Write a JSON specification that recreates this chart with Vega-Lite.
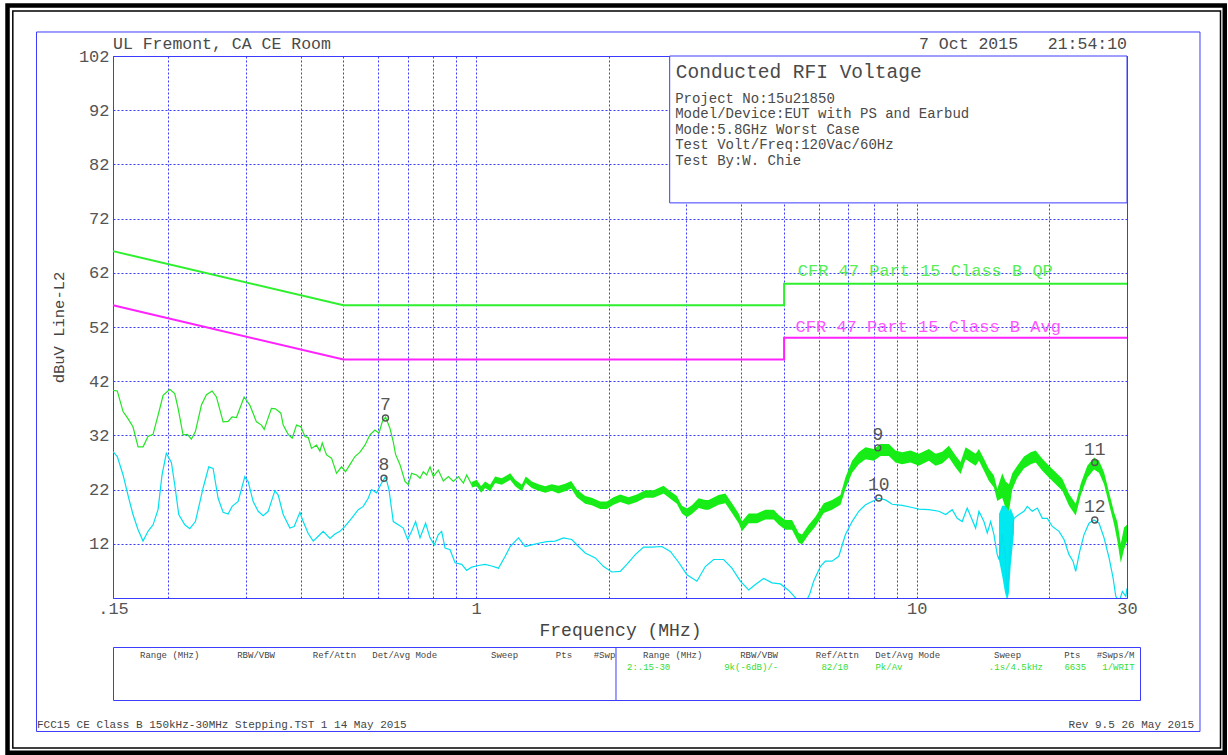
{
  "$schema": "https://vega.github.io/schema/vega-lite/v6.json",
  "background": "white",
  "autosize": {"type": "pad"},
  "padding": {"left": 4, "top": 2, "right": 0, "bottom": 0},
  "datasets": {
    "limits": [
      {"lim": "QP", "i": 0, "f": 0.15, "v": 66}, {"lim": "QP", "i": 1, "f": 0.5, "v": 56}, {"lim": "QP", "i": 2, "f": 5, "v": 56}, {"lim": "QP", "i": 3, "f": 5, "v": 60}, {"lim": "QP", "i": 4, "f": 30, "v": 60},
      {"lim": "Avg", "i": 0, "f": 0.15, "v": 56}, {"lim": "Avg", "i": 1, "f": 0.5, "v": 46}, {"lim": "Avg", "i": 2, "f": 5, "v": 46}, {"lim": "Avg", "i": 3, "f": 5, "v": 50}, {"lim": "Avg", "i": 4, "f": 30, "v": 50}
    ],
    "pk": [
      {"f": 0.150, "v": 40.3}, {"f": 0.1534, "v": 40.2}, {"f": 0.1581, "v": 36.4}, {"f": 0.1622, "v": 35.1}, {"f": 0.1665, "v": 33.6}, {"f": 0.1710, "v": 29.9}, {"f": 0.1755, "v": 29.9}, {"f": 0.1801, "v": 31.8}, {"f": 0.1849, "v": 32.2}, {"f": 0.1898, "v": 35.7}, {"f": 0.1949, "v": 39.4}, {"f": 0.2018, "v": 40.5}, {"f": 0.2071, "v": 39.7}, {"f": 0.2108, "v": 37.0}, {"f": 0.2163, "v": 32.1}, {"f": 0.2213, "v": 32.2}, {"f": 0.2259, "v": 31.3}, {"f": 0.2307, "v": 32.7}, {"f": 0.2381, "v": 37.6}, {"f": 0.2444, "v": 39.5}, {"f": 0.2517, "v": 40.2}, {"f": 0.2575, "v": 39.1}, {"f": 0.2667, "v": 34.5}, {"f": 0.2737, "v": 34.6}, {"f": 0.2795, "v": 35.4}, {"f": 0.2859, "v": 35.3}, {"f": 0.2976, "v": 39.1}, {"f": 0.3066, "v": 37.6}, {"f": 0.3174, "v": 34.5}, {"f": 0.3258, "v": 33.9}, {"f": 0.3305, "v": 33.1}, {"f": 0.3433, "v": 37.0}, {"f": 0.3506, "v": 36.9}, {"f": 0.3606, "v": 36.1}, {"f": 0.3650, "v": 33.9}, {"f": 0.3747, "v": 32.2}, {"f": 0.3826, "v": 31.5}, {"f": 0.3913, "v": 33.9}, {"f": 0.4004, "v": 33.6}, {"f": 0.4089, "v": 31.8}, {"f": 0.4160, "v": 31.6}, {"f": 0.4232, "v": 29.6}, {"f": 0.4344, "v": 30.2}, {"f": 0.4422, "v": 29.1}, {"f": 0.4476, "v": 30.6}, {"f": 0.4578, "v": 28.4}, {"f": 0.4699, "v": 27.8}, {"f": 0.4823, "v": 25.0}, {"f": 0.4951, "v": 26.2}, {"f": 0.5056, "v": 25.3}, {"f": 0.5173, "v": 26.6}, {"f": 0.5310, "v": 28.1}, {"f": 0.5451, "v": 28.9}, {"f": 0.5595, "v": 30.2}, {"f": 0.5743, "v": 32.1}, {"f": 0.5895, "v": 33.0}, {"f": 0.6020, "v": 32.4}, {"f": 0.6125, "v": 34.5}, {"f": 0.6232, "v": 35.4}, {"f": 0.6377, "v": 33.3}, {"f": 0.6488, "v": 30.8}, {"f": 0.6566, "v": 28.5}, {"f": 0.6719, "v": 26.6}, {"f": 0.6897, "v": 23.5}, {"f": 0.7017, "v": 22.9}, {"f": 0.7140, "v": 25.0}, {"f": 0.7329, "v": 24.7}, {"f": 0.7461, "v": 24.1}, {"f": 0.7590, "v": 25.3}, {"f": 0.7723, "v": 24.7}, {"f": 0.7861, "v": 26.2}, {"f": 0.7998, "v": 24.4}, {"f": 0.8210, "v": 25.6}, {"f": 0.8428, "v": 23.6}, {"f": 0.8652, "v": 24.4}, {"f": 0.8882, "v": 23.5}, {"f": 0.9117, "v": 24.4}, {"f": 0.9359, "v": 23.2}, {"f": 0.9522, "v": 24.7}, {"f": 0.9775, "v": 22.9},
      {"f": 1.0034, "v": 23.2}, {"f": 1.0268, "v": 22.0}, {"f": 1.0485, "v": 22.9}, {"f": 1.0763, "v": 22.3}, {"f": 1.1049, "v": 23.8}, {"f": 1.1437, "v": 23.5}, {"f": 1.1951, "v": 24.4}, {"f": 1.2268, "v": 23.2}, {"f": 1.2699, "v": 22.3}, {"f": 1.2967, "v": 23.8}, {"f": 1.3381, "v": 22.9}, {"f": 1.3858, "v": 22.4}, {"f": 1.4352, "v": 22.0}, {"f": 1.4852, "v": 22.4}, {"f": 1.5381, "v": 22.0}, {"f": 1.5929, "v": 22.4}, {"f": 1.6437, "v": 22.9}, {"f": 1.6925, "v": 21.3}, {"f": 1.7685, "v": 20.1}, {"f": 1.8306, "v": 19.8}, {"f": 1.9129, "v": 19.1}, {"f": 1.9801, "v": 19.1}, {"f": 2.0508, "v": 19.9}, {"f": 2.1239, "v": 20.4}, {"f": 2.2182, "v": 19.9}, {"f": 2.3167, "v": 20.4}, {"f": 2.4209, "v": 21.2}, {"f": 2.5284, "v": 21.2}, {"f": 2.6640, "v": 22.0}, {"f": 2.7590, "v": 21.0}, {"f": 2.8558, "v": 20.1}, {"f": 2.9316, "v": 18.3}, {"f": 3.0092, "v": 17.7}, {"f": 3.0890, "v": 18.3}, {"f": 3.1991, "v": 19.5}, {"f": 3.3131, "v": 19.2}, {"f": 3.3708, "v": 19.2}, {"f": 3.5514, "v": 20.1}, {"f": 3.6783, "v": 20.4}, {"f": 3.8075, "v": 18.6}, {"f": 3.9432, "v": 16.7}, {"f": 4.0119, "v": 15.2}, {"f": 4.1550, "v": 16.7}, {"f": 4.3394, "v": 16.7}, {"f": 4.5345, "v": 17.4}, {"f": 4.7360, "v": 17.4}, {"f": 4.8615, "v": 16.4}, {"f": 5.0348, "v": 15.5}, {"f": 5.2115, "v": 15.5}, {"f": 5.3972, "v": 13.1}, {"f": 5.4912, "v": 12.8}, {"f": 5.6870, "v": 14.6}, {"f": 5.8896, "v": 16.1}, {"f": 6.1514, "v": 18.6}, {"f": 6.4244, "v": 19.2}, {"f": 6.7131, "v": 20.1}, {"f": 6.8910, "v": 23.2}, {"f": 7.1330, "v": 26.2}, {"f": 7.3872, "v": 27.8}, {"f": 7.6506, "v": 28.7}, {"f": 7.9904, "v": 28.4}, {"f": 8.2752, "v": 29.3}, {"f": 8.6426, "v": 29.3}, {"f": 8.9508, "v": 28.1}, {"f": 9.2652, "v": 27.8}, {"f": 9.6812, "v": 28.1}, {"f": 10.111, "v": 27.5}, {"f": 10.654, "v": 28.4}, {"f": 11.034, "v": 27.5}, {"f": 11.422, "v": 27.9}, {"f": 11.829, "v": 29.0}, {"f": 12.250, "v": 27.2}, {"f": 12.575, "v": 26.0}, {"f": 12.909, "v": 28.7}, {"f": 13.251, "v": 28.1}, {"f": 13.602, "v": 27.5}, {"f": 13.839, "v": 28.4}, {"f": 14.205, "v": 26.6}, {"f": 14.582, "v": 24.7}, {"f": 14.969, "v": 23.5}, {"f": 15.229, "v": 21.0}, {"f": 15.633, "v": 22.9}, {"f": 15.914, "v": 21.0}, {"f": 16.191, "v": 19.8}, {"f": 16.473, "v": 23.5}, {"f": 16.910, "v": 25.3}, {"f": 17.513, "v": 27.0}, {"f": 18.138, "v": 27.8}, {"f": 18.618, "v": 28.1}, {"f": 19.272, "v": 26.6}, {"f": 19.959, "v": 25.3}, {"f": 20.670, "v": 24.1}, {"f": 21.396, "v": 22.9}, {"f": 22.159, "v": 20.1}, {"f": 22.947, "v": 18.3}, {"f": 23.555, "v": 22.0}, {"f": 24.382, "v": 25.3}, {"f": 25.252, "v": 26.8}, {"f": 25.921, "v": 26.2}, {"f": 26.610, "v": 24.1}, {"f": 27.316, "v": 20.4}, {"f": 28.041, "v": 16.7}, {"f": 28.529, "v": 14.3}, {"f": 29.040, "v": 9.7}, {"f": 29.546, "v": 13.7}, {"f": 30, "v": 14.3}
    ],
    "pkband": [
      {"f": 0.9775, "lo": 22.4, "hi": 23.4}, {"f": 1.0034, "lo": 22.6, "hi": 23.8}, {"f": 1.0268, "lo": 21.4, "hi": 22.6}, {"f": 1.0485, "lo": 22.3, "hi": 23.5}, {"f": 1.0763, "lo": 21.7, "hi": 22.9}, {"f": 1.1049, "lo": 23.2, "hi": 24.4}, {"f": 1.1437, "lo": 22.9, "hi": 24.1}, {"f": 1.1951, "lo": 23.8, "hi": 25.0}, {"f": 1.2268, "lo": 22.6, "hi": 23.8}, {"f": 1.2699, "lo": 21.7, "hi": 22.9}, {"f": 1.2967, "lo": 23.2, "hi": 24.4}, {"f": 1.3381, "lo": 22.3, "hi": 23.5}, {"f": 1.3858, "lo": 21.8, "hi": 23.0}, {"f": 1.4352, "lo": 21.4, "hi": 22.6}, {"f": 1.4852, "lo": 21.8, "hi": 23.0}, {"f": 1.5381, "lo": 21.3, "hi": 22.7}, {"f": 1.5929, "lo": 21.7, "hi": 23.1}, {"f": 1.6437, "lo": 22.2, "hi": 23.6}, {"f": 1.6925, "lo": 20.6, "hi": 22.0}, {"f": 1.7685, "lo": 19.4, "hi": 20.8}, {"f": 1.8306, "lo": 19.1, "hi": 20.5}, {"f": 1.9129, "lo": 18.4, "hi": 19.8}, {"f": 1.9801, "lo": 18.4, "hi": 19.8}, {"f": 2.0508, "lo": 19.2, "hi": 20.6}, {"f": 2.1239, "lo": 19.7, "hi": 21.1}, {"f": 2.2182, "lo": 19.2, "hi": 20.6}, {"f": 2.3167, "lo": 19.7, "hi": 21.1}, {"f": 2.4209, "lo": 20.5, "hi": 21.9}, {"f": 2.5284, "lo": 20.5, "hi": 21.9}, {"f": 2.6640, "lo": 21.3, "hi": 22.7}, {"f": 2.7590, "lo": 20.3, "hi": 21.7}, {"f": 2.8558, "lo": 19.4, "hi": 20.8}, {"f": 2.9316, "lo": 17.6, "hi": 19.0}, {"f": 3.0092, "lo": 16.9, "hi": 18.5}, {"f": 3.0890, "lo": 17.5, "hi": 19.1}, {"f": 3.1991, "lo": 18.6, "hi": 20.4}, {"f": 3.3131, "lo": 18.3, "hi": 20.1}, {"f": 3.3708, "lo": 18.3, "hi": 20.1}, {"f": 3.5514, "lo": 19.2, "hi": 21.0}, {"f": 3.6783, "lo": 19.5, "hi": 21.3}, {"f": 3.8075, "lo": 17.7, "hi": 19.5}, {"f": 3.9432, "lo": 15.8, "hi": 17.6}, {"f": 4.0119, "lo": 14.3, "hi": 16.1}, {"f": 4.1550, "lo": 15.8, "hi": 17.6}, {"f": 4.3394, "lo": 15.8, "hi": 17.6}, {"f": 4.5345, "lo": 16.5, "hi": 18.3}, {"f": 4.7360, "lo": 16.5, "hi": 18.3}, {"f": 4.8615, "lo": 15.5, "hi": 17.3}, {"f": 5.0348, "lo": 14.6, "hi": 16.4}, {"f": 5.2115, "lo": 14.6, "hi": 16.4}, {"f": 5.3972, "lo": 12.2, "hi": 14.0}, {"f": 5.4912, "lo": 11.9, "hi": 13.7}, {"f": 5.6870, "lo": 13.7, "hi": 15.5}, {"f": 5.8896, "lo": 15.2, "hi": 17.0}, {"f": 6.1514, "lo": 17.7, "hi": 19.5}, {"f": 6.4244, "lo": 18.3, "hi": 20.1}, {"f": 6.7131, "lo": 19.2, "hi": 21.0}, {"f": 6.8910, "lo": 22.1, "hi": 24.3}, {"f": 7.1330, "lo": 25.1, "hi": 27.3}, {"f": 7.3872, "lo": 26.7, "hi": 28.9}, {"f": 7.6506, "lo": 27.6, "hi": 29.8}, {"f": 7.9904, "lo": 27.3, "hi": 29.5}, {"f": 8.2752, "lo": 28.2, "hi": 30.4}, {"f": 8.6426, "lo": 28.2, "hi": 30.4}, {"f": 8.9508, "lo": 27.0, "hi": 29.2}, {"f": 9.2652, "lo": 26.7, "hi": 28.9}, {"f": 9.6812, "lo": 27.0, "hi": 29.2}, {"f": 10.111, "lo": 26.4, "hi": 28.6}, {"f": 10.654, "lo": 27.3, "hi": 29.5}, {"f": 11.034, "lo": 26.4, "hi": 28.6}, {"f": 11.422, "lo": 26.8, "hi": 29.0}, {"f": 11.829, "lo": 27.9, "hi": 30.1}, {"f": 12.250, "lo": 26.1, "hi": 28.3}, {"f": 12.575, "lo": 24.9, "hi": 27.1}, {"f": 12.909, "lo": 27.6, "hi": 29.8}, {"f": 13.251, "lo": 27.0, "hi": 29.2}, {"f": 13.602, "lo": 26.4, "hi": 28.6}, {"f": 13.839, "lo": 27.3, "hi": 29.5}, {"f": 14.205, "lo": 25.5, "hi": 27.7}, {"f": 14.582, "lo": 23.6, "hi": 25.8}, {"f": 14.969, "lo": 22.4, "hi": 24.6}, {"f": 15.229, "lo": 19.9, "hi": 22.1}, {"f": 15.633, "lo": 20.5, "hi": 25.0}, {"f": 15.914, "lo": 18.5, "hi": 23.5}, {"f": 16.191, "lo": 18.0, "hi": 23.0}, {"f": 16.473, "lo": 22.0, "hi": 25.0}, {"f": 16.910, "lo": 24.2, "hi": 26.4}, {"f": 17.513, "lo": 25.9, "hi": 28.1}, {"f": 18.138, "lo": 26.7, "hi": 28.9}, {"f": 18.618, "lo": 27.0, "hi": 29.2}, {"f": 19.272, "lo": 25.5, "hi": 27.7}, {"f": 19.959, "lo": 24.2, "hi": 26.4}, {"f": 20.670, "lo": 23.0, "hi": 25.2}, {"f": 21.396, "lo": 21.8, "hi": 24.0}, {"f": 22.159, "lo": 19.0, "hi": 21.2}, {"f": 22.947, "lo": 17.2, "hi": 19.4}, {"f": 23.555, "lo": 20.9, "hi": 23.1}, {"f": 24.382, "lo": 24.2, "hi": 26.4}, {"f": 25.252, "lo": 25.7, "hi": 27.9}, {"f": 25.921, "lo": 25.1, "hi": 27.3}, {"f": 26.610, "lo": 23.0, "hi": 25.2}, {"f": 27.316, "lo": 19.3, "hi": 21.5}, {"f": 28.041, "lo": 15.6, "hi": 17.8}, {"f": 28.529, "lo": 12.5, "hi": 16.0}, {"f": 29.040, "lo": 8.5, "hi": 12.0}, {"f": 29.546, "lo": 11.0, "hi": 15.0}, {"f": 30, "lo": 12.5, "hi": 15.5}
    ],
    "av": [
      {"f": 0.150, "v": 29.0}, {"f": 0.1534, "v": 28.1}, {"f": 0.1581, "v": 24.7}, {"f": 0.1622, "v": 21.0}, {"f": 0.1665, "v": 17.4}, {"f": 0.1710, "v": 14.6}, {"f": 0.1755, "v": 12.5}, {"f": 0.1801, "v": 14.3}, {"f": 0.1849, "v": 15.5}, {"f": 0.1898, "v": 18.3}, {"f": 0.1938, "v": 24.7}, {"f": 0.1982, "v": 28.7}, {"f": 0.2035, "v": 27.0}, {"f": 0.2071, "v": 22.9}, {"f": 0.2115, "v": 17.4}, {"f": 0.2183, "v": 15.5}, {"f": 0.2240, "v": 14.8}, {"f": 0.2307, "v": 16.1}, {"f": 0.2402, "v": 22.3}, {"f": 0.2474, "v": 26.2}, {"f": 0.2531, "v": 25.9}, {"f": 0.2598, "v": 20.4}, {"f": 0.2667, "v": 17.8}, {"f": 0.2737, "v": 17.5}, {"f": 0.2795, "v": 18.9}, {"f": 0.2884, "v": 19.8}, {"f": 0.2987, "v": 24.4}, {"f": 0.3039, "v": 23.5}, {"f": 0.3120, "v": 19.8}, {"f": 0.3203, "v": 18.0}, {"f": 0.3287, "v": 17.2}, {"f": 0.3375, "v": 18.0}, {"f": 0.3495, "v": 21.8}, {"f": 0.3556, "v": 21.0}, {"f": 0.3650, "v": 17.4}, {"f": 0.3780, "v": 14.9}, {"f": 0.3866, "v": 15.2}, {"f": 0.3983, "v": 17.8}, {"f": 0.4052, "v": 16.1}, {"f": 0.4160, "v": 13.9}, {"f": 0.4270, "v": 12.5}, {"f": 0.4383, "v": 13.4}, {"f": 0.4499, "v": 14.3}, {"f": 0.4660, "v": 13.0}, {"f": 0.4783, "v": 13.8}, {"f": 0.4910, "v": 14.3}, {"f": 0.5040, "v": 15.2}, {"f": 0.5217, "v": 16.7}, {"f": 0.5403, "v": 18.3}, {"f": 0.5546, "v": 18.9}, {"f": 0.5692, "v": 20.4}, {"f": 0.5792, "v": 22.0}, {"f": 0.5945, "v": 21.4}, {"f": 0.6102, "v": 23.2}, {"f": 0.6232, "v": 24.4}, {"f": 0.6344, "v": 22.0}, {"f": 0.6488, "v": 16.1}, {"f": 0.6660, "v": 15.5}, {"f": 0.6836, "v": 14.9}, {"f": 0.6992, "v": 12.8}, {"f": 0.7140, "v": 14.3}, {"f": 0.7291, "v": 16.1}, {"f": 0.7461, "v": 13.1}, {"f": 0.7682, "v": 15.8}, {"f": 0.7861, "v": 13.1}, {"f": 0.8040, "v": 11.8}, {"f": 0.8210, "v": 13.7}, {"f": 0.8354, "v": 14.3}, {"f": 0.8504, "v": 11.2}, {"f": 0.8730, "v": 10.9}, {"f": 0.8961, "v": 8.5}, {"f": 0.9276, "v": 8.2}, {"f": 0.9522, "v": 7.1}, {"f": 0.9775, "v": 7.7}, {"f": 1.0124, "v": 8.0}, {"f": 1.0485, "v": 8.2}, {"f": 1.0848, "v": 7.9}, {"f": 1.1241, "v": 7.5}, {"f": 1.1643, "v": 9.7}, {"f": 1.1951, "v": 11.5}, {"f": 1.2478, "v": 13.1}, {"f": 1.2927, "v": 11.5}, {"f": 1.3381, "v": 11.8}, {"f": 1.3858, "v": 12.1}, {"f": 1.4473, "v": 12.4}, {"f": 1.5118, "v": 12.5}, {"f": 1.5789, "v": 13.1}, {"f": 1.6490, "v": 12.8}, {"f": 1.7076, "v": 11.5}, {"f": 1.7685, "v": 10.3}, {"f": 1.8644, "v": 9.4}, {"f": 1.9470, "v": 7.8}, {"f": 2.0327, "v": 6.8}, {"f": 2.1239, "v": 6.9}, {"f": 2.1986, "v": 8.2}, {"f": 2.2974, "v": 10.0}, {"f": 2.3994, "v": 11.4}, {"f": 2.5062, "v": 11.4}, {"f": 2.6405, "v": 11.5}, {"f": 2.7590, "v": 10.6}, {"f": 2.8814, "v": 8.6}, {"f": 3.0092, "v": 6.3}, {"f": 3.1707, "v": 5.1}, {"f": 3.3131, "v": 7.8}, {"f": 3.4600, "v": 9.1}, {"f": 3.6457, "v": 9.1}, {"f": 3.8075, "v": 7.5}, {"f": 3.9783, "v": 5.1}, {"f": 4.1550, "v": 3.5}, {"f": 4.3032, "v": 4.5}, {"f": 4.4944, "v": 5.6}, {"f": 4.6941, "v": 4.8}, {"f": 4.9049, "v": 4.6}, {"f": 5.1222, "v": 3.4}, {"f": 5.34, "v": 1.8}, {"f": 5.57, "v": 0.8}, {"f": 5.72, "v": 2.8}, {"f": 5.8356, "v": 5.1}, {"f": 6.0435, "v": 7.8}, {"f": 6.2036, "v": 8.8}, {"f": 6.4244, "v": 8.8}, {"f": 6.6537, "v": 9.7}, {"f": 6.8910, "v": 13.7}, {"f": 7.1330, "v": 16.1}, {"f": 7.3872, "v": 18.0}, {"f": 7.6506, "v": 19.2}, {"f": 7.9199, "v": 19.8}, {"f": 8.2022, "v": 20.4}, {"f": 8.4945, "v": 20.1}, {"f": 8.7932, "v": 19.3}, {"f": 9.2652, "v": 19.1}, {"f": 9.7625, "v": 18.7}, {"f": 10.111, "v": 18.4}, {"f": 10.654, "v": 18.3}, {"f": 11.226, "v": 18.0}, {"f": 11.627, "v": 17.4}, {"f": 12.035, "v": 18.3}, {"f": 12.354, "v": 16.7}, {"f": 12.681, "v": 16.1}, {"f": 13.017, "v": 18.6}, {"f": 13.362, "v": 16.4}, {"f": 13.602, "v": 14.9}, {"f": 13.839, "v": 18.0}, {"f": 14.205, "v": 16.1}, {"f": 14.453, "v": 14.0}, {"f": 14.712, "v": 16.1}, {"f": 14.969, "v": 13.7}, {"f": 15.229, "v": 10.0}, {"f": 15.366, "v": 9.1}, {"f": 15.633, "v": 13.7}, {"f": 15.855, "v": 10.6}, {"f": 16.047, "v": 2.6}, {"f": 16.335, "v": 12.5}, {"f": 16.620, "v": 16.7}, {"f": 17.060, "v": 17.4}, {"f": 17.513, "v": 18.0}, {"f": 17.817, "v": 18.9}, {"f": 18.289, "v": 18.0}, {"f": 18.774, "v": 18.6}, {"f": 19.272, "v": 16.7}, {"f": 19.782, "v": 16.7}, {"f": 20.305, "v": 15.2}, {"f": 21.030, "v": 14.3}, {"f": 21.588, "v": 12.8}, {"f": 22.159, "v": 10.0}, {"f": 22.626, "v": 8.8}, {"f": 22.947, "v": 6.9}, {"f": 23.432, "v": 10.6}, {"f": 23.965, "v": 13.7}, {"f": 24.600, "v": 15.8}, {"f": 25.252, "v": 16.4}, {"f": 25.921, "v": 15.8}, {"f": 26.610, "v": 13.1}, {"f": 27.316, "v": 9.4}, {"f": 27.895, "v": 5.7}, {"f": 28.292, "v": 2.3}, {"f": 28.784, "v": 1.3}, {"f": 29.285, "v": 3.2}, {"f": 29.811, "v": 2.3}, {"f": 30, "v": 3.8}
    ],
    "avband": [
      {"f": 15.37, "lo": 9.0, "hi": 17.5}, {"f": 15.63, "lo": 6.0, "hi": 19.0}, {"f": 15.86, "lo": 3.0, "hi": 19.0}, {"f": 16.05, "lo": 1.5, "hi": 18.5}, {"f": 16.19, "lo": 3.0, "hi": 18.0}, {"f": 16.34, "lo": 8.0, "hi": 18.5}, {"f": 16.62, "lo": 14.0, "hi": 17.0}
    ],
    "markers": [
      {"marker": "7", "f": 0.623, "v": 35.2}, {"marker": "8", "f": 0.618, "v": 24.1}, {"marker": "9", "f": 8.16, "v": 29.7}, {"marker": "10", "f": 8.2, "v": 20.45}, {"marker": "11", "f": 25.35, "v": 27.0}, {"marker": "12", "f": 25.35, "v": 16.4}
    ],
    "table": [
      {"half": "L", "row": 1, "kind": "header", "text": "Range (MHz)\u00a0\u00a0\u00a0\u00a0\u00a0\u00a0\u00a0RBW/VBW\u00a0\u00a0\u00a0\u00a0\u00a0\u00a0\u00a0Ref/Attn\u00a0\u00a0\u00a0Det/Avg Mode\u00a0\u00a0\u00a0\u00a0\u00a0\u00a0\u00a0\u00a0\u00a0\u00a0Sweep\u00a0\u00a0\u00a0\u00a0\u00a0\u00a0\u00a0Pts\u00a0\u00a0\u00a0\u00a0#Swp"},
      {"half": "R", "row": 1, "kind": "header", "text": "Range (MHz)\u00a0\u00a0\u00a0\u00a0\u00a0\u00a0\u00a0RBW/VBW\u00a0\u00a0\u00a0\u00a0\u00a0\u00a0\u00a0Ref/Attn\u00a0\u00a0\u00a0Det/Avg Mode\u00a0\u00a0\u00a0\u00a0\u00a0\u00a0\u00a0\u00a0\u00a0\u00a0Sweep\u00a0\u00a0\u00a0\u00a0\u00a0\u00a0\u00a0\u00a0Pts\u00a0\u00a0\u00a0#Swps/M"},
      {"half": "R", "row": 2, "kind": "setting", "text": "2:.15-30\u00a0\u00a0\u00a0\u00a0\u00a0\u00a0\u00a0\u00a0\u00a0\u00a09k(-6dB)/-\u00a0\u00a0\u00a0\u00a0\u00a0\u00a0\u00a0\u00a082/10\u00a0\u00a0\u00a0\u00a0\u00a0Pk/Av\u00a0\u00a0\u00a0\u00a0\u00a0\u00a0\u00a0\u00a0\u00a0\u00a0\u00a0\u00a0\u00a0\u00a0\u00a0\u00a0.1s/4.5kHz\u00a0\u00a0\u00a0\u00a06635\u00a0\u00a0\u00a01/WRIT"}
    ]
  },
  "vconcat": [
    {
      "width": 1014,
      "height": 542,
      "layer": [
        {
          "data": {"name": "limits"},
          "mark": {"type": "line", "strokeWidth": 2},
          "encoding": {
            "x": {
              "field": "f", "type": "quantitative",
              "scale": {"type": "log", "domain": [0.15, 30], "nice": false},
              "axis": {
                "values": [0.15, 0.2, 0.3, 0.4, 0.5, 0.6, 0.7, 0.8, 0.9, 1, 2, 3, 4, 5, 6, 7, 8, 9, 10, 20, 30],
                "labelExpr": "datum.value == 0.15 ? '.15' : ((datum.value == 1 || datum.value == 10 || datum.value == 30) ? format(datum.value, 'd') : '')",
                "labelFlush": false, "labelOverlap": false, "labelPadding": 2, "labelFontSize": 17,
                "title": "Frequency (MHz)", "titleFontSize": 18, "titlePadding": 5, "grid": true
              }
            },
            "y": {
              "field": "v", "type": "quantitative",
              "scale": {"domain": [2, 102], "nice": false, "zero": false},
              "axis": {
                "values": [12, 22, 32, 42, 52, 62, 72, 82, 92, 102],
                "labelPadding": 4, "labelFontSize": 17,
                "title": "dBuV Line-L2", "titleFontSize": 15.5, "titlePadding": 12, "grid": true
              }
            },
            "color": {"field": "lim", "type": "nominal", "scale": {"domain": ["QP", "Avg"], "range": ["#2ef02e", "#ff22ff"]}, "legend": null},
            "order": {"field": "i", "type": "quantitative"}
          }
        },
        {
          "data": {"values": [{}]},
          "mark": {"type": "rect", "filled": false, "color": "#000000", "strokeWidth": 4.5},
          "encoding": {
            "x": {"datum": 0.08644, "type": "quantitative"},
            "x2": {"datum": 50.0},
            "y": {"datum": 111.32, "type": "quantitative"},
            "y2": {"datum": -26.55}
          }
        },
        {
          "data": {"values": [{}]},
          "mark": {"type": "rect", "filled": false, "color": "#000000", "strokeWidth": 1.5},
          "encoding": {
            "x": {"datum": 0.08887, "type": "quantitative"},
            "x2": {"datum": 48.9},
            "y": {"datum": 110.3, "type": "quantitative"},
            "y2": {"datum": -25.68}
          }
        },
        {
          "data": {"values": [{}]},
          "mark": {"type": "rect", "filled": false, "color": "#3c3cff", "strokeWidth": 1},
          "encoding": {
            "x": {"datum": 0.10058, "type": "quantitative"},
            "x2": {"datum": 43.93},
            "y": {"datum": 106.43, "type": "quantitative"},
            "y2": {"datum": -22.63}
          }
        },
        {
          "data": {"values": [{}]},
          "mark": {"type": "rect", "fill": "white", "stroke": "#3c3cff", "strokeWidth": 1},
          "encoding": {
            "x": {"datum": 2.75, "type": "quantitative"},
            "x2": {"datum": 30},
            "y": {"datum": 74.9, "type": "quantitative"},
            "y2": {"datum": 102}
          }
        },
        {
          "data": {"values": [{}]},
          "mark": {"type": "text", "font": "Liberation Mono", "align": "left", "baseline": "middle", "fontSize": 19.5, "color": "#4a4a4a", "text": "Conducted RFI Voltage"},
          "encoding": {
            "x": {"datum": 2.84, "type": "quantitative"},
            "y": {"datum": 99.0, "type": "quantitative"}
          }
        },
        {
          "data": {"values": [{}]},
          "mark": {"type": "text", "font": "Liberation Mono", "align": "left", "baseline": "middle", "fontSize": 14, "lineHeight": 15.5, "color": "#4a4a4a",
            "text": ["Project No:15u21850", "Model/Device:EUT with PS and Earbud", "Mode:5.8GHz Worst Case", "Test Volt/Freq:120Vac/60Hz", "Test By:W. Chie"]},
          "encoding": {
            "x": {"datum": 2.83, "type": "quantitative"},
            "y": {"datum": 94.1, "type": "quantitative"}
          }
        },
        {
          "data": {"values": [{}]},
          "mark": {"type": "text", "font": "Liberation Mono", "align": "left", "baseline": "middle", "fontSize": 17, "color": "#55ee55", "text": "CFR 47 Part 15 Class B QP"},
          "encoding": {
            "x": {"datum": 5.37, "type": "quantitative"},
            "y": {"datum": 62.3, "type": "quantitative"}
          }
        },
        {
          "data": {"values": [{}]},
          "mark": {"type": "text", "font": "Liberation Mono", "align": "left", "baseline": "middle", "fontSize": 17, "color": "#ff55ff", "text": "CFR 47 Part 15 Class B Avg"},
          "encoding": {
            "x": {"datum": 5.31, "type": "quantitative"},
            "y": {"datum": 52.0, "type": "quantitative"}
          }
        },
        {
          "data": {"name": "pkband"},
          "mark": {"type": "area", "color": "#14ee14", "clip": true},
          "encoding": {
            "x": {"field": "f", "type": "quantitative"},
            "y": {"field": "lo", "type": "quantitative"},
            "y2": {"field": "hi"}
          }
        },
        {
          "data": {"name": "pk"},
          "mark": {"type": "line", "color": "#22e622", "strokeWidth": 1.2, "clip": true},
          "encoding": {
            "x": {"field": "f", "type": "quantitative"},
            "y": {"field": "v", "type": "quantitative"}
          }
        },
        {
          "data": {"name": "avband"},
          "mark": {"type": "area", "color": "#00e8f0", "clip": true},
          "encoding": {
            "x": {"field": "f", "type": "quantitative"},
            "y": {"field": "lo", "type": "quantitative"},
            "y2": {"field": "hi"}
          }
        },
        {
          "data": {"name": "av"},
          "mark": {"type": "line", "color": "#00e0ee", "strokeWidth": 1.2, "clip": true},
          "encoding": {
            "x": {"field": "f", "type": "quantitative"},
            "y": {"field": "v", "type": "quantitative"}
          }
        },
        {
          "data": {"name": "markers"},
          "mark": {"type": "point", "shape": "circle", "filled": false, "size": 36, "stroke": "#555", "strokeWidth": 1.4, "opacity": 1},
          "encoding": {
            "x": {"field": "f", "type": "quantitative"},
            "y": {"field": "v", "type": "quantitative"}
          }
        },
        {
          "data": {"name": "markers"},
          "mark": {"type": "text", "font": "Liberation Mono", "baseline": "middle", "dy": -13, "fontSize": 18, "color": "#555"},
          "encoding": {
            "x": {"field": "f", "type": "quantitative"},
            "y": {"field": "v", "type": "quantitative"},
            "text": {"field": "marker"}
          }
        },
        {
          "data": {"values": [{}]},
          "mark": {"type": "text", "font": "Liberation Mono", "align": "left", "baseline": "middle", "dy": -12, "fontSize": 16.5, "color": "#4a4a4a", "text": "UL Fremont, CA CE Room"},
          "encoding": {
            "x": {"datum": 0.15, "type": "quantitative"},
            "y": {"datum": 102, "type": "quantitative"}
          }
        },
        {
          "data": {"values": [{}]},
          "mark": {"type": "text", "font": "Liberation Mono", "align": "right", "baseline": "middle", "dy": -12, "fontSize": 16.5, "color": "#4a4a4a", "text": "7 Oct 2015\u00a0\u00a0\u00a021:54:10"},
          "encoding": {
            "x": {"datum": 30, "type": "quantitative"},
            "y": {"datum": 102, "type": "quantitative"}
          }
        }
      ]
    },
    {
      "width": 1027, "height": 53,
      "data": {"name": "table"},
      "encoding": {
        "x": {"field": "half", "type": "nominal", "bandPosition": 0, "scale": {"type": "band", "domain": ["L", "R"], "paddingInner": 0, "paddingOuter": 0.0209, "align": 0}, "axis": null},
        "y": {"field": "row", "type": "ordinal", "scale": {"type": "point", "domain": [1, 2, 3, 4], "padding": 0.7}, "axis": null}
      },
      "layer": [
        {
          "transform": [{"filter": "datum.half == 'R' && datum.row == 1"}],
          "mark": {"type": "rule", "color": "#3c3cff", "strokeWidth": 1},
          "encoding": {"y": {"value": 0}, "y2": {"value": 53}}
        },
        {
          "transform": [{"filter": "datum.kind == 'header'"}],
          "mark": {"type": "text", "font": "Liberation Mono", "align": "left", "baseline": "middle", "dx": 27, "fontSize": 9, "color": "#444", "clip": true},
          "encoding": {"text": {"field": "text"}}
        },
        {
          "transform": [{"filter": "datum.kind == 'setting'"}],
          "mark": {"type": "text", "font": "Liberation Mono", "align": "left", "baseline": "middle", "dx": 11, "fontSize": 9, "color": "#33dd33", "clip": true},
          "encoding": {"text": {"field": "text"}}
        }
      ]
    },
    {
      "width": 1081, "height": 1,
      "view": {"stroke": null},
      "data": {"values": [{}]},
      "layer": [
        {
          "mark": {"type": "text", "font": "Liberation Mono", "align": "left", "baseline": "middle", "dx": -76, "dy": -25, "fontSize": 11, "color": "#444", "text": "FCC15 CE Class B 150kHz-30MHz Stepping.TST 1 14 May 2015"},
          "encoding": {
            "x": {"datum": 0, "type": "quantitative", "scale": {"domain": [0, 1]}, "axis": null},
            "y": {"datum": 0.5, "type": "quantitative", "scale": {"domain": [0, 1]}, "axis": null}
          }
        },
        {
          "mark": {"type": "text", "font": "Liberation Mono", "align": "right", "baseline": "middle", "dy": -25, "fontSize": 11, "color": "#444", "text": "Rev 9.5 26 May 2015"},
          "encoding": {
            "x": {"datum": 1, "type": "quantitative", "scale": {"domain": [0, 1]}, "axis": null},
            "y": {"datum": 0.5, "type": "quantitative", "scale": {"domain": [0, 1]}, "axis": null}
          }
        }
      ]
    }
  ],
  "spacing": 49,
  "bounds": "flush",
  "config": {
    "font": "Liberation Mono",
    "view": {"stroke": "#3c3cff", "strokeWidth": 1},
    "axis": {
      "domain": false, "ticks": false,
      "gridColor": "#3a3aff", "gridDash": [2, 2], "gridOpacity": 1, "gridWidth": 1,
      "labelColor": "#555", "titleColor": "#444",
      "labelFont": "Liberation Mono", "titleFont": "Liberation Mono", "titleFontWeight": "normal"
    }
  }
}
